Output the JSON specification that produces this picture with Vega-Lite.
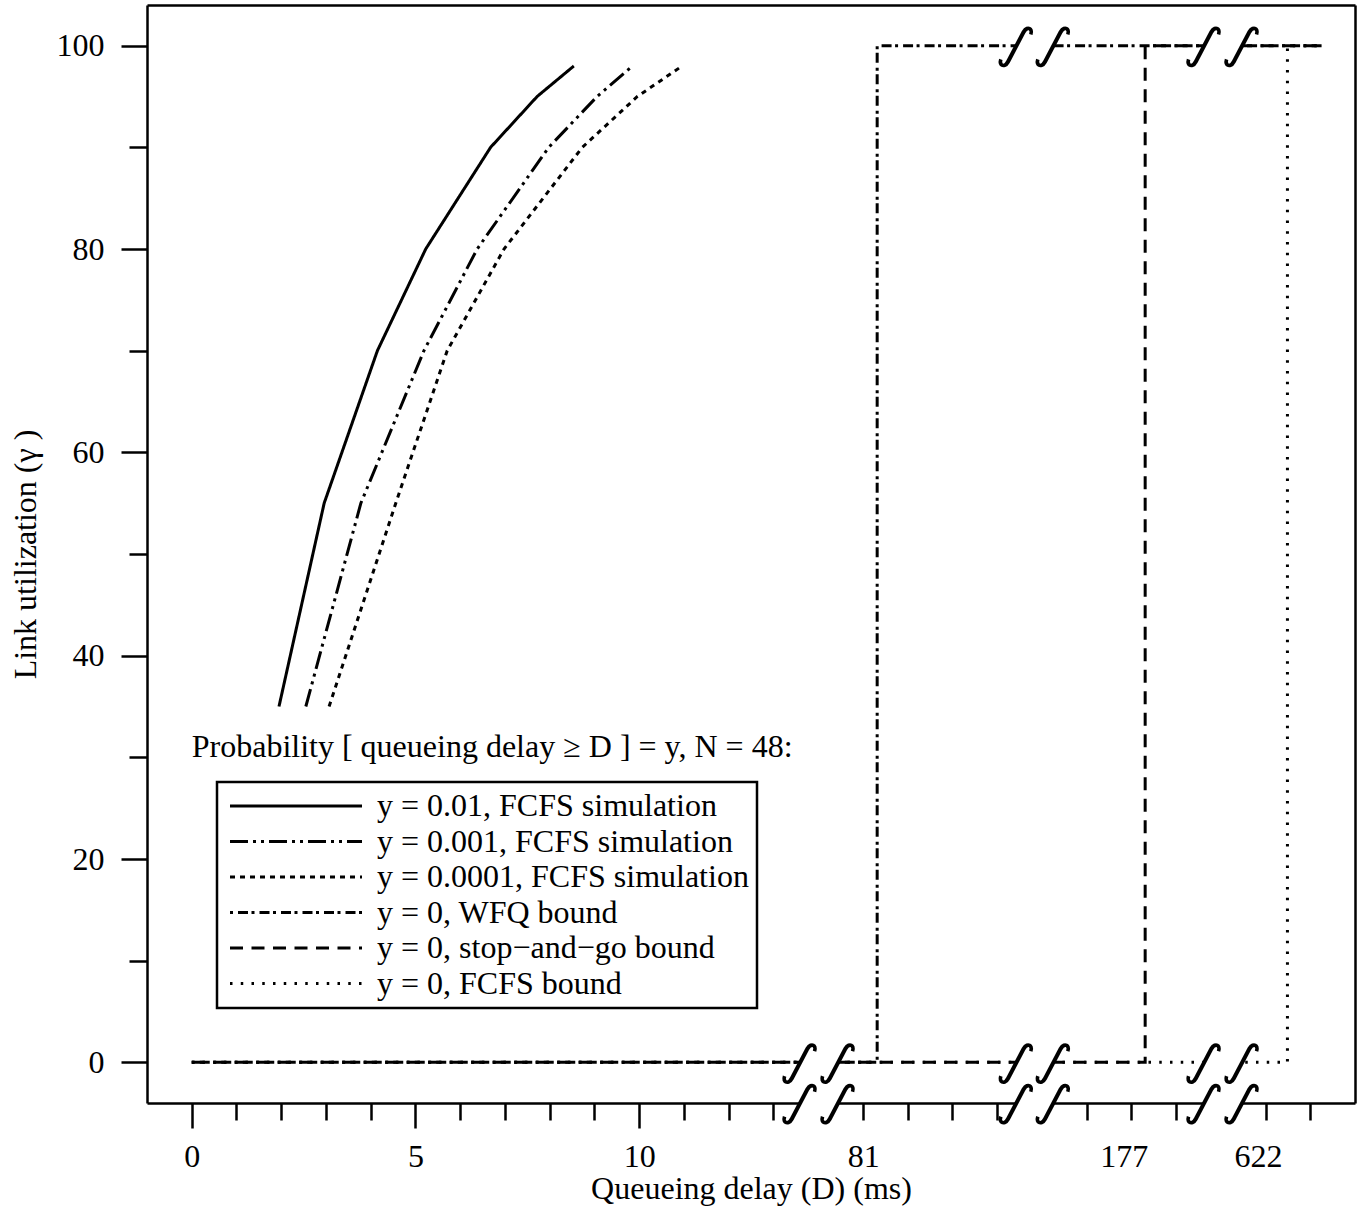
{
  "$schema": "https://vega.github.io/schema/vega-lite/v6.json",
  "width": 1208,
  "height": 1098,
  "autosize": {"type": "none"},
  "padding": {"left": 147, "top": 5, "right": 4, "bottom": 112},
  "background": "white",
  "config": {
    "view": {"stroke": null},
    "font": "Liberation Serif",
    "axis": {
      "grid": false,
      "domainColor": "black",
      "domainWidth": 2.5,
      "tickColor": "black",
      "tickWidth": 2.5,
      "labelFont": "Liberation Serif",
      "labelFontSize": 32,
      "labelColor": "black",
      "titleFont": "Liberation Serif",
      "titleFontSize": 32,
      "titleFontWeight": "normal",
      "titleColor": "black",
      "labelOverlap": false,
      "labelFlush": false,
      "labelBound": false
    },
    "legend": {"strokeWidth": 2.5}
  },
  "datasets": {
    "curves": [
      {"series": "y = 0.01, FCFS simulation", "i": 0, "D_pos": 1.95, "gamma": 35},
      {"series": "y = 0.01, FCFS simulation", "i": 1, "D_pos": 2.96, "gamma": 55},
      {"series": "y = 0.01, FCFS simulation", "i": 2, "D_pos": 4.15, "gamma": 70},
      {"series": "y = 0.01, FCFS simulation", "i": 3, "D_pos": 5.23, "gamma": 80},
      {"series": "y = 0.01, FCFS simulation", "i": 4, "D_pos": 6.68, "gamma": 90},
      {"series": "y = 0.01, FCFS simulation", "i": 5, "D_pos": 7.72, "gamma": 95},
      {"series": "y = 0.01, FCFS simulation", "i": 6, "D_pos": 8.54, "gamma": 98},
      {"series": "y = 0.001, FCFS simulation", "i": 0, "D_pos": 2.55, "gamma": 35},
      {"series": "y = 0.001, FCFS simulation", "i": 1, "D_pos": 3.78, "gamma": 55},
      {"series": "y = 0.001, FCFS simulation", "i": 2, "D_pos": 5.19, "gamma": 70},
      {"series": "y = 0.001, FCFS simulation", "i": 3, "D_pos": 6.38, "gamma": 80},
      {"series": "y = 0.001, FCFS simulation", "i": 4, "D_pos": 7.98, "gamma": 90},
      {"series": "y = 0.001, FCFS simulation", "i": 5, "D_pos": 9.06, "gamma": 95},
      {"series": "y = 0.001, FCFS simulation", "i": 6, "D_pos": 9.85, "gamma": 98},
      {"series": "y = 0.0001, FCFS simulation", "i": 0, "D_pos": 3.07, "gamma": 35},
      {"series": "y = 0.0001, FCFS simulation", "i": 1, "D_pos": 4.56, "gamma": 55},
      {"series": "y = 0.0001, FCFS simulation", "i": 2, "D_pos": 5.71, "gamma": 70},
      {"series": "y = 0.0001, FCFS simulation", "i": 3, "D_pos": 6.98, "gamma": 80},
      {"series": "y = 0.0001, FCFS simulation", "i": 4, "D_pos": 8.73, "gamma": 90},
      {"series": "y = 0.0001, FCFS simulation", "i": 5, "D_pos": 9.96, "gamma": 95},
      {"series": "y = 0.0001, FCFS simulation", "i": 6, "D_pos": 10.96, "gamma": 98},
      {"series": "y = 0, WFQ bound", "i": 0, "D_pos": 0, "gamma": 0},
      {"series": "y = 0, WFQ bound", "i": 1, "D_pos": 15.32, "gamma": 0},
      {"series": "y = 0, WFQ bound", "i": 2, "D_pos": 15.32, "gamma": 100},
      {"series": "y = 0, WFQ bound", "i": 3, "D_pos": 25.28, "gamma": 100},
      {"series": "y = 0, stop−and−go bound", "i": 0, "D_pos": 0, "gamma": 0},
      {"series": "y = 0, stop−and−go bound", "i": 1, "D_pos": 21.31, "gamma": 0},
      {"series": "y = 0, stop−and−go bound", "i": 2, "D_pos": 21.31, "gamma": 100},
      {"series": "y = 0, stop−and−go bound", "i": 3, "D_pos": 25.28, "gamma": 100},
      {"series": "y = 0, FCFS bound", "i": 0, "D_pos": 0, "gamma": 0},
      {"series": "y = 0, FCFS bound", "i": 1, "D_pos": 24.49, "gamma": 0},
      {"series": "y = 0, FCFS bound", "i": 2, "D_pos": 24.49, "gamma": 100},
      {"series": "y = 0, FCFS bound", "i": 3, "D_pos": 25.28, "gamma": 100}
    ],
    "gaps": [
      {"D_start": 13.6, "D_end": 14.45, "gamma": 0},
      {"D_start": 13.6, "D_end": 14.45, "gamma": -4},
      {"D_start": 18.43, "D_end": 19.26, "gamma": 0},
      {"D_start": 18.43, "D_end": 19.26, "gamma": -4},
      {"D_start": 18.43, "D_end": 19.26, "gamma": 100},
      {"D_start": 22.63, "D_end": 23.48, "gamma": 0},
      {"D_start": 22.63, "D_end": 23.48, "gamma": -4},
      {"D_start": 22.63, "D_end": 23.48, "gamma": 100}
    ],
    "breaks": [
      {"D_pos": 13.6, "gamma": 0}, {"D_pos": 14.45, "gamma": 0},
      {"D_pos": 13.6, "gamma": -4}, {"D_pos": 14.45, "gamma": -4},
      {"D_pos": 18.43, "gamma": 0}, {"D_pos": 19.26, "gamma": 0},
      {"D_pos": 18.43, "gamma": -4}, {"D_pos": 19.26, "gamma": -4},
      {"D_pos": 18.43, "gamma": 100}, {"D_pos": 19.26, "gamma": 100},
      {"D_pos": 22.63, "gamma": 0}, {"D_pos": 23.48, "gamma": 0},
      {"D_pos": 22.63, "gamma": -4}, {"D_pos": 23.48, "gamma": -4},
      {"D_pos": 22.63, "gamma": 100}, {"D_pos": 23.48, "gamma": 100}
    ],
    "caption": [
      {"D_pos": 0, "gamma": 30, "label": "Probability [ queueing delay ≥ D ] = y, N = 48:"}
    ]
  },
  "layer": [
    {
      "data": {"name": "curves"},
      "mark": {"type": "line", "color": "black", "strokeWidth": 3, "clip": false},
      "encoding": {
        "x": {
          "field": "D_pos", "type": "quantitative",
          "scale": {"domain": [-1, 26], "nice": false, "zero": false},
          "axis": {
            "orient": "bottom",
            "values": [0,1,2,3,4,5,6,7,8,9,10,11,12,13,15,15.01,16,17,18,20,20.83,21,22,23.83,24,25],
            "tickSize": {"condition": {"test": "datum.value == 0 || datum.value == 5 || datum.value == 10 || datum.value == 15.01 || datum.value == 20.83 || datum.value == 23.83", "value": 25}, "value": 17},
            "tickOpacity": {"condition": {"test": "datum.value == 15.01 || datum.value == 20.83 || datum.value == 23.83", "value": 0}, "value": 1},
            "labelExpr": "datum.value == 0 ? '0' : datum.value == 5 ? '5' : datum.value == 10 ? '10' : datum.value == 15.01 ? '81' : datum.value == 20.83 ? '177' : datum.value == 23.83 ? '622' : ''",
            "labelPadding": 13,
            "title": "Queueing delay (D) (ms)",
            "titleBaseline": "alphabetic",
            "titleY": 95
          }
        },
        "y": {
          "field": "gamma", "type": "quantitative",
          "scale": {"domain": [-4, 104], "nice": false, "zero": false},
          "axis": {
            "orient": "left",
            "values": [0,10,20,30,40,50,60,70,80,90,100],
            "tickSize": {"condition": {"test": "datum.value % 20 == 0", "value": 26}, "value": 18},
            "labelExpr": "datum.value % 20 == 0 ? datum.label : ''",
            "labelPadding": 17,
            "labelBaseline": "middle",
            "title": "Link utilization (γ )",
            "titleAngle": -90,
            "titleAlign": "center",
            "titleBaseline": "alphabetic",
            "titleX": -112,
            "titleY": 549
          }
        },
        "strokeDash": {
          "field": "series", "type": "nominal",
          "scale": {
            "domain": ["y = 0.01, FCFS simulation", "y = 0.001, FCFS simulation", "y = 0.0001, FCFS simulation", "y = 0, WFQ bound", "y = 0, stop−and−go bound", "y = 0, FCFS bound"],
            "range": [[1, 0], [18, 5, 3, 5, 3, 5], [5, 5], [3, 5, 10, 3.5], [13, 8.5], [2.5, 8.25]]
          },
          "legend": {
            "title": null,
            "orient": "none",
            "legendX": 70,
            "legendY": 777,
            "strokeColor": "black",
            "fillColor": "white",
            "padding": 8,
            "symbolType": "M-10,0L10,0",
            "symbolSize": 174.24,
            "symbolOffset": 55,
            "symbolStrokeWidth": 3,
            "symbolStrokeColor": "black",
            "labelFont": "Liberation Serif",
            "labelFontSize": 32,
            "labelColor": "black",
            "labelOffset": 65,
            "labelLimit": 0,
            "rowPadding": 3.5
          }
        },
        "order": {"field": "i", "type": "quantitative"}
      }
    },
    {
      "data": {"name": "gaps"},
      "mark": {"type": "rule", "color": "white", "strokeWidth": 9, "strokeCap": "butt", "clip": false},
      "encoding": {
        "x": {"field": "D_start", "type": "quantitative", "axis": {"orient": "top", "ticks": false, "labels": false, "title": null}},
        "x2": {"field": "D_end"},
        "y": {"field": "gamma", "type": "quantitative", "axis": {"orient": "right", "ticks": false, "labels": false, "title": null}}
      }
    },
    {
      "data": {"name": "breaks"},
      "mark": {"type": "text", "text": "∫", "font": "DejaVu Sans", "fontSize": 50, "angle": 25, "align": "center", "baseline": "middle", "color": "black", "clip": false},
      "encoding": {
        "x": {"field": "D_pos", "type": "quantitative", "axis": null},
        "y": {"field": "gamma", "type": "quantitative", "axis": null}
      }
    },
    {
      "data": {"name": "caption"},
      "mark": {"type": "text", "align": "left", "baseline": "alphabetic", "font": "Liberation Serif", "fontSize": 32, "color": "black"},
      "encoding": {
        "x": {"field": "D_pos", "type": "quantitative", "axis": null},
        "y": {"field": "gamma", "type": "quantitative", "axis": null},
        "text": {"field": "label"}
      }
    }
  ],
  "resolve": {"axis": {"x": "independent", "y": "independent"}}
}
